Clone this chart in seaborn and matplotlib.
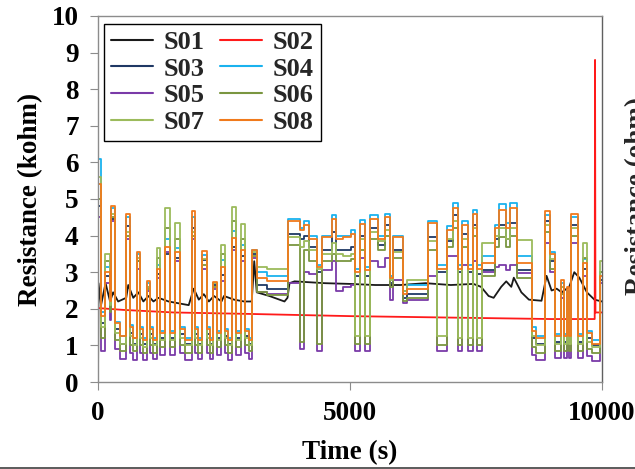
import pandas as pd
import matplotlib
matplotlib.use('Agg')
import matplotlib.pyplot as plt
import seaborn as sns
from matplotlib.lines import Line2D

sns.set_theme(style='ticks')
plt.rcParams['font.family'] = ['Liberation Serif', 'DejaVu Serif']
plt.rcParams['font.weight'] = 'bold'
plt.rcParams['axes.labelweight'] = 'bold'

# --- pulsed sensors S03..S08: level held from each start time to the next ---
seg_t = [0, 5, 50, 139, 240, 258, 337, 430, 556, 635, 700, 767, 833, 900, 965,
         1032, 1100, 1164, 1230, 1329, 1428, 1528, 1627, 1720, 1858, 1924, 1990,
         2057, 2156, 2220, 2288, 2354, 2444, 2510, 2580, 2651, 2737, 2830, 2916,
         2990, 3061, 3148, 3350, 3776, 4000, 4090, 4180, 4340, 4440, 4640, 4720,
         4870, 5010, 5099, 5198, 5297, 5396, 5562, 5694, 5793, 5860, 6058, 6124,
         6554, 6719, 6917, 7050, 7149, 7215, 7347, 7440, 7515, 7610, 7880, 7960,
         8100, 8170, 8306, 8604, 8700, 8868, 8967, 9060, 9190, 9250, 9300, 9350,
         9390, 9529, 9628, 9707, 9800, 9960, 10000]

s03 = [0, 4.8, 1.6, 2.9, 2.0, 4.45, 1.45, 1.05, 4.25, 1.35, 1.05, 3.3, 1.3, 1.05, 2.6,
       1.3, 1.05, 2.95, 1.2, 3.5, 1.2, 3.4, 1.3, 1.05, 4.2, 1.3, 1.05,
       3.33, 1.3, 1.05, 2.65, 1.2, 2.93, 1.25, 1.05, 3.7, 1.2, 3.45, 1.25,
       1.05, 3.5, 2.65, 2.55, 4.05, 3.9, 4.0, 3.7, 3.0, 3.6, 4.1, 3.6,
       3.6, 3.7, 2.9, 4.0, 2.9, 4.2, 3.75, 4.3, 2.7, 3.6, 2.3, 2.4,
       3.95, 3.0, 3.85, 4.55, 3.0, 4.05, 3.0, 4.3, 2.95, 3.06, 3.9, 4.3,
       3.9, 4.35, 3.06, 1.2, 1.05, 4.4, 3.3, 1.1, 2.6, 1.1, 2.4, 1.1,
       4.3, 1.1, 3.1, 1.2, 1.0, 2.8, 2.8]
s04 = [0, 6.1, 1.9, 3.15, 2.2, 4.75, 1.65, 1.25, 4.5, 1.55, 1.2, 3.5, 1.5, 1.2, 2.7,
       1.5, 1.2, 3.2, 1.4, 3.9, 1.4, 3.65, 1.5, 1.2, 4.52, 1.5, 1.2,
       3.48, 1.5, 1.2, 2.7, 1.4, 3.33, 1.45, 1.2, 4.12, 1.4, 3.74, 1.45,
       1.2, 3.6, 3.0, 2.9, 4.45, 4.2, 4.4, 4.0, 3.2, 4.0, 4.56, 4.0,
       4.0, 4.15, 3.1, 4.43, 3.15, 4.55, 4.0, 4.6, 2.9, 4.0, 2.5, 2.65,
       4.4, 3.2, 4.25, 4.88, 3.2, 4.4, 3.2, 4.7, 3.2, 3.43, 4.3, 4.85,
       4.35, 4.9, 3.43, 1.5, 1.25, 4.55, 3.55, 1.3, 2.7, 1.3, 2.5, 1.3,
       4.5, 1.3, 3.35, 1.4, 1.15, 3.0, 3.0]
s05 = [0, 4.5, 0.85, 2.7, 1.7, 4.4, 0.9, 0.62, 3.9, 0.8, 0.6, 3.1, 0.8, 0.6, 2.5,
       0.8, 0.62, 2.85, 0.75, 3.55, 0.75, 3.3, 0.8, 0.6, 3.9, 0.8, 0.62,
       3.1, 0.8, 0.62, 2.55, 0.75, 2.75, 0.8, 0.6, 3.6, 0.75, 3.3, 0.8,
       0.62, 3.4, 2.45, 2.4, 2.7, 0.9, 3.0, 2.95, 0.85, 3.05, 3.3, 2.5,
       2.6, 2.65, 0.85, 3.4, 0.85, 3.3, 3.15, 3.4, 2.25, 2.8, 2.15, 2.25,
       2.9, 0.85, 3.45, 3.45, 0.85, 3.2, 0.85, 3.3, 0.85, 3.0, 3.15, 3.2,
       3.05, 3.2, 2.97, 0.75, 0.6, 3.8, 3.0, 0.65, 2.3, 0.65, 2.1, 0.65,
       3.8, 0.65, 2.9, 0.7, 0.58, 2.7, 2.7]
s06 = [0, 5.0, 1.2, 3.3, 1.9, 4.5, 1.15, 0.85, 4.0, 1.0, 0.85, 3.3, 1.0, 0.8, 2.55,
       1.0, 0.8, 3.4, 0.95, 4.2, 0.95, 3.9, 1.0, 0.8, 4.0, 1.0, 0.8,
       3.2, 1.0, 0.8, 2.6, 0.95, 3.5, 1.0, 0.8, 4.4, 0.95, 3.9, 1.0,
       0.85, 3.45, 2.45, 2.38, 3.75, 1.1, 3.6, 3.3, 1.05, 3.3, 3.5, 3.3,
       3.3, 3.35, 1.05, 3.6, 1.05, 3.9, 3.6, 4.0, 2.6, 3.4, 2.2, 2.3,
       3.6, 1.0, 3.7, 4.2, 1.0, 3.7, 1.0, 4.0, 1.0, 2.9, 3.7, 3.95,
       3.7, 4.0, 2.85, 0.95, 0.8, 4.1, 3.1, 0.85, 2.4, 0.85, 2.2, 0.85,
       4.0, 0.85, 3.4, 0.9, 0.8, 3.0, 3.0]
s07 = [0, 5.6, 1.5, 3.5, 2.1, 4.6, 1.35, 1.05, 4.1, 1.25, 1.0, 3.4, 1.2, 0.95, 2.6,
       1.2, 1.0, 3.65, 1.15, 4.75, 1.15, 4.35, 1.2, 1.0, 4.1, 1.2, 1.0,
       3.35, 1.2, 1.0, 2.7, 1.15, 3.74, 1.2, 1.0, 4.79, 1.15, 4.33, 1.2,
       1.0, 3.55, 3.15, 3.1, 3.95, 3.7, 3.85, 3.6, 3.1, 3.5, 3.8, 3.5,
       3.45, 3.5, 1.25, 3.9, 1.25, 4.1, 3.85, 4.15, 2.8, 3.55, 2.5, 2.78,
       3.85, 1.25, 3.9, 4.4, 1.2, 3.9, 1.2, 4.2, 1.2, 3.8, 4.0, 4.2,
       3.9, 4.2, 3.88, 1.25, 1.0, 4.3, 3.35, 1.05, 2.6, 1.05, 2.4, 1.05,
       4.2, 1.05, 3.8, 1.1, 0.95, 3.3, 3.3]
s08 = [0, 5.4, 1.8, 3.0, 2.2, 4.8, 1.6, 1.25, 4.6, 1.5, 1.2, 3.55, 1.45, 1.15, 2.75,
       1.45, 1.15, 3.1, 1.35, 3.7, 1.35, 3.55, 1.45, 1.15, 4.66, 1.45, 1.15,
       3.57, 1.45, 1.15, 2.74, 1.35, 3.15, 1.4, 1.15, 3.94, 1.35, 3.6, 1.4,
       1.15, 3.6, 2.85, 2.75, 4.4, 4.15, 4.3, 3.9, 3.15, 3.95, 4.45, 3.9,
       3.95, 4.05, 3.0, 4.33, 3.05, 4.45, 3.9, 4.5, 2.85, 3.95, 2.4, 2.55,
       4.35, 3.1, 4.15, 4.75, 3.1, 4.3, 3.1, 4.6, 3.1, 3.25, 4.2, 4.7,
       4.2, 4.75, 3.25, 1.4, 1.2, 4.66, 3.5, 1.25, 2.8, 1.25, 2.6, 1.25,
       4.6, 1.25, 3.25, 1.35, 1.05, 2.9, 2.9]

# --- S01 (reference) and S02 (drifting) traced as polylines ---
s01_t = [0, 10, 60, 150, 240, 300, 400, 560, 600, 700, 800, 900, 1000, 1100, 1200,
         1400, 1600, 1800, 1900, 2000, 2100, 2200, 2300, 2450, 2500, 2700, 2900,
         3050, 3100, 3150, 3400, 3600, 3700, 3760, 3800, 3900, 4500, 5000, 5500,
         6000, 6500, 7000, 7450, 7600, 7750, 7850, 8000, 8100, 8200, 8250, 8400,
         8550, 8800, 8900, 9000, 9100, 9200, 9350, 9450, 9550, 9700, 9850, 10000]
s01_v = [0, 2.7, 2.1, 2.7, 2.2, 2.45, 2.2, 2.3, 2.65, 2.3, 2.45, 2.2, 2.35, 2.2, 2.3,
         2.2, 2.15, 2.1, 2.55, 2.25, 2.4, 2.2, 2.35, 2.2, 2.35, 2.25, 2.2,
         2.2, 3.3, 2.45, 2.35, 2.25, 2.2, 2.3, 2.7, 2.75, 2.7, 2.68, 2.65,
         2.65, 2.7, 2.65, 2.68, 2.6, 2.35, 2.3, 2.6, 2.75, 2.6, 2.85, 2.45,
         2.25, 2.22, 2.9, 2.5, 2.55, 2.45, 2.6, 3.0, 2.85, 2.45, 2.25, 2.2]

s02_t = [0, 500, 1500, 3000, 5000, 7000, 9000, 9855, 9862, 9870, 10000]
s02_v = [2.02, 1.97, 1.9, 1.86, 1.8, 1.76, 1.72, 1.72, 8.8, 1.9, 1.9]

colors = {'S01': '#1a1a1a', 'S02': '#ff1a1a', 'S03': '#1f3864', 'S04': '#1ab2ee',
          'S05': '#7a3aa8', 'S06': '#7a9640', 'S07': '#9cbb5c', 'S08': '#f07a1c'}

steps = pd.concat([pd.DataFrame({'time': seg_t, 'res': v, 'sensor': n})
                   for n, v in zip(['S03', 'S04', 'S05', 'S06', 'S07', 'S08'],
                                   [s03, s04, s05, s06, s07, s08])])
smooth = pd.concat([pd.DataFrame({'time': s01_t, 'res': s01_v, 'sensor': 'S01'}),
                    pd.DataFrame({'time': s02_t, 'res': s02_v, 'sensor': 'S02'})])

fig = plt.figure(figsize=(6.35, 4.69), dpi=100)
ax = fig.add_axes([98 / 635, 1 - 382 / 469, 504 / 635, 366 / 469])

sns.lineplot(data=smooth, x='time', y='res', hue='sensor', hue_order=['S01', 'S02'],
             palette=colors, estimator=None, lw=1.3, legend=False, ax=ax)
sns.lineplot(data=steps, x='time', y='res', hue='sensor',
             hue_order=['S03', 'S04', 'S05', 'S06', 'S07', 'S08'],
             palette=colors, estimator=None, lw=1.3, drawstyle='steps-post',
             legend=False, ax=ax)

ax.set_xlim(0, 10000)
ax.set_ylim(0, 10)
ax.set_xticks([0, 5000, 10000])
ax.set_yticks(range(11))
ax.tick_params(direction='out', length=6, width=0.8, color='#8c8c8c', pad=8,
               labelsize=19.5, labelcolor='black')
for side, sp in ax.spines.items():
    sp.set_visible(True)
    sp.set_color('#8c8c8c')
    sp.set_linewidth(1.0)
ax.spines['right'].set_color('#606060')

ax.set_xlabel('Time (s)', fontsize=19.5, fontweight='bold', color='black')
ax.set_ylabel('Resistance (kohm)', fontsize=19.5, fontweight='bold', color='black')
ax.xaxis.set_label_coords(0.5, -0.158)
ax.yaxis.set_label_coords(-0.109, 0.5)

# legend laid out row-wise: S01 S02 / S03 S04 / ...
order = ['S01', 'S03', 'S05', 'S07', 'S02', 'S04', 'S06', 'S08']
handles = [Line2D([], [], color=colors[n], lw=1.5) for n in order]
leg = ax.legend(handles, order, ncol=2, loc='upper left',
                bbox_to_anchor=(6 / 504, 1 - 8 / 366), borderaxespad=0,
                fancybox=False, framealpha=1, edgecolor='black', fontsize=19,
                handlelength=1.6, handletextpad=0.4, columnspacing=0.6,
                labelspacing=0.12, borderpad=0.25)
leg.get_frame().set_linewidth(1.0)

# neighbouring panel's axis title, cut at the edge as in the source, and the rule under the figure
fig.text(625 / 635, 1 - 196 / 469, 'Resistance (ohm)', rotation=90, ha='left',
         va='center', fontsize=19.5, fontweight='bold')
fig.add_artist(Line2D([0, 1], [1 - 467.5 / 469] * 2, transform=fig.transFigure,
                      color='#404040', lw=1.2))

fig.savefig('out.png', dpi=100)
